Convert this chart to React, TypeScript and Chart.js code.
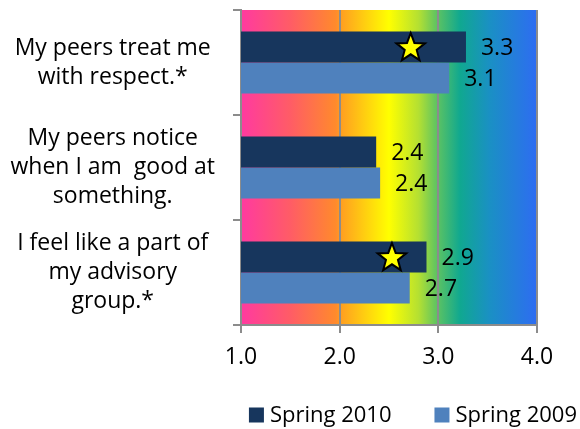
import React, { useEffect, useRef } from "react";
import { Chart, registerables } from "chart.js";
Chart.register(...registerables);

const categories: string[][] = [
  ["My peers treat me", "with respect.*"],
  ["My peers notice", "when I am  good at", "something."],
  ["I feel like a part of", "my advisory", "group.*"],
];
const seriesNames = ["Spring 2010", "Spring 2009"];
const spring2010 = [3.28, 2.37, 2.88];
const spring2009 = [3.11, 2.41, 2.71];
const starValues: (number | null)[] = [2.72, null, 2.53];
const xMin = 1;
const xMax = 4;
const xStep = 1;

const FONT = "'Open Sans'";
const FS = 23;
const LEGEND_FS = 22;

const gradientStops: [number, string][] = [
  [0, "#FF3AA0"],
  [0.166, "#FF5C66"],
  [0.32, "#FF8A2C"],
  [0.34, "#FFA020"],
  [0.5, "#FFFF00"],
  [0.6, "#B4E032"],
  [0.66, "#60C460"],
  [0.74, "#10A890"],
  [0.84, "#1A90C4"],
  [1, "#2E6CF2"],
];

const bgPlugin = {
  id: "bgGradient",
  beforeDraw(chart: any) {
    const { ctx, chartArea: a } = chart;
    const g = ctx.createLinearGradient(a.left, 0, a.right, 0);
    gradientStops.forEach(([o, c]) => g.addColorStop(o, c));
    ctx.save();
    ctx.fillStyle = g;
    ctx.fillRect(a.left, a.top, a.right - a.left, a.bottom - a.top);
    ctx.restore();
  },
};

function drawStar(ctx: CanvasRenderingContext2D, cx: number, cy: number, R: number, r: number) {
  ctx.beginPath();
  for (let i = 0; i < 10; i++) {
    const rad = i % 2 === 0 ? R : r;
    const ang = -Math.PI / 2 + (i * Math.PI) / 5;
    const x = cx + rad * Math.cos(ang);
    const y = cy + rad * Math.sin(ang);
    if (i === 0) ctx.moveTo(x, y);
    else ctx.lineTo(x, y);
  }
  ctx.closePath();
  ctx.fillStyle = "#FFFF00";
  ctx.fill();
  ctx.lineWidth = 2;
  ctx.strokeStyle = "#000000";
  ctx.stroke();
}

const overlayPlugin = {
  id: "overlay",
  afterDatasetsDraw(chart: any) {
    const { ctx } = chart;
    ctx.save();
    ctx.font = `${FS}px ${FONT}`;
    ctx.fillStyle = "#000";
    ctx.textAlign = "left";
    ctx.textBaseline = "middle";
    chart.data.datasets.forEach((ds: any, di: number) => {
      const meta = chart.getDatasetMeta(di);
      meta.data.forEach((el: any, i: number) => {
        const v = ds.data[i];
        ctx.fillText(Number(v).toFixed(1), el.x + 15, el.y + 1);
      });
    });
    const meta0 = chart.getDatasetMeta(0);
    starValues.forEach((v, i) => {
      if (v == null) return;
      const x = chart.scales.x.getPixelForValue(v);
      const y = meta0.data[i].y;
      drawStar(ctx, x, y + 1, 15, 6.3);
    });
    ctx.restore();
  },
  afterDraw(chart: any) {
    const { ctx } = chart;
    ctx.save();
    ctx.font = `${LEGEND_FS}px ${FONT}`;
    ctx.textBaseline = "middle";
    ctx.textAlign = "left";
    const box = 15;
    const gapText = 6;
    const gapItem = 43;
    const ds = chart.data.datasets;
    const widths = ds.map((d: any) => box + gapText + ctx.measureText(d.label).width);
    const total = widths.reduce((s: number, w: number) => s + w, 0) + gapItem * (ds.length - 1);
    let x = chart.width - 3 - total;
    const y = 415;
    ds.forEach((d: any, i: number) => {
      ctx.fillStyle = d.backgroundColor;
      ctx.fillRect(x, y - box / 2, box, box);
      ctx.fillStyle = "#000";
      ctx.fillText(d.label, x + box + gapText, y + 1);
      x += widths[i] + gapItem;
    });
    ctx.restore();
  },
};

export default function App() {
  const ref = useRef<HTMLCanvasElement>(null);
  useEffect(() => {
    document.body.style.margin = "0";
    const chart = new Chart(ref.current!, {
      type: "bar",
      data: {
        labels: categories,
        datasets: [
          {
            label: seriesNames[0],
            data: spring2010,
            backgroundColor: "#17365D",
            barPercentage: 1,
            categoryPercentage: 0.59,
          },
          {
            label: seriesNames[1],
            data: spring2009,
            backgroundColor: "#4F81BD",
            barPercentage: 1,
            categoryPercentage: 0.59,
          },
        ],
      },
      options: {
        indexAxis: "y",
        animation: false,
        responsive: false,
        layout: { padding: { top: 10, right: 43, left: 0, bottom: 0 } },
        plugins: { legend: { display: false }, tooltip: { enabled: false } },
        scales: {
          x: {
            type: "linear",
            min: xMin,
            max: xMax,
            afterFit: (s: any) => {
              s.height = 104;
              s.paddingLeft = 0;
              s.paddingRight = 0;
            },
            ticks: {
              stepSize: xStep,
              color: "#000",
              font: { family: FONT, size: FS },
              padding: 11,
              callback: (v: any) => Number(v).toFixed(1),
            },
            grid: {
              color: "#8C8C8C",
              lineWidth: 2,
              drawOnChartArea: true,
              drawTicks: true,
              tickLength: 8,
            },
            border: { display: true, color: "#8C8C8C", width: 2 },
          },
          y: {
            type: "category",
            afterFit: (s: any) => {
              s.width = 241;
              s.paddingTop = 0;
              s.paddingBottom = 0;
            },
            ticks: {
              color: "#000",
              crossAlign: "center",
              autoSkip: false,
              padding: 18,
              font: { family: FONT, size: FS, lineHeight: 1.26 },
            },
            grid: {
              color: "#8C8C8C",
              lineWidth: 2,
              drawOnChartArea: false,
              drawTicks: true,
              tickLength: 8,
              offset: true,
            },
            border: { display: true, color: "#8C8C8C", width: 2 },
          },
        },
      },
      plugins: [bgPlugin, overlayPlugin],
    } as any);
    return () => chart.destroy();
  }, []);
  return (
    <div style={{ width: 580, height: 429 }}>
      <canvas ref={ref} width={580} height={429} />
    </div>
  );
}
